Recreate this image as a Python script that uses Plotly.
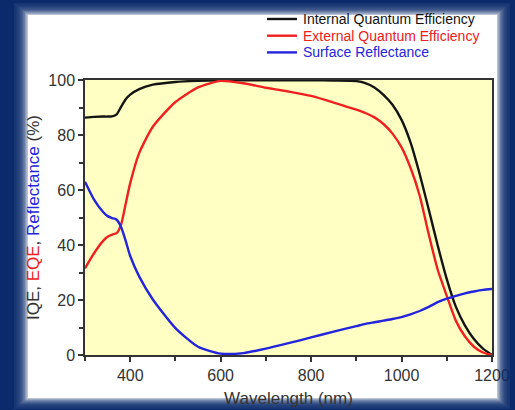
import plotly.graph_objects as go

# Wavelength grid (nm) and measured curves (%)
wavelength = [300, 320, 340, 350, 360, 370, 380, 390, 400, 420, 450, 500, 550, 600, 650,
              700, 750, 800, 850, 900, 920, 940, 960, 980, 1000, 1020, 1040, 1060, 1080,
              1100, 1120, 1140, 1160, 1180, 1200]

iqe = [86.3, 86.6, 86.7, 86.7, 86.8, 87.5, 90.3, 93.0, 94.7, 96.7, 98.3, 99.3, 99.7, 99.9, 99.9,
       99.9, 99.9, 99.9, 99.8, 99.6, 98.9, 97.3, 94.6, 91.0, 85.5, 77.2, 65.8, 53.0, 39.8,
       27.6, 17.6, 10.8, 5.8, 2.3, 0.0]

eqe = [31.5, 37.0, 41.5, 43.0, 43.8, 44.3, 47.5, 55.0, 62.5, 73.5, 83.0, 92.0, 97.3, 99.7, 98.8,
       97.2, 95.8, 94.2, 91.8, 89.2, 88.0, 86.4, 84.0, 80.5, 75.5, 68.0, 58.0, 44.0, 31.0,
       21.5, 12.5, 6.8, 3.0, 0.9, 0.0]

refl = [63.0, 56.5, 52.0, 50.5, 49.8, 49.2, 46.5, 41.5, 36.0, 28.5, 20.2, 9.8, 3.0, 0.5, 0.7,
        2.3, 4.3, 6.4, 8.5, 10.5, 11.3, 11.9, 12.5, 13.1, 13.8, 14.8, 16.0, 17.5, 19.2,
        20.5, 21.5, 22.4, 23.1, 23.7, 24.0]

series_names = ["Internal Quantum Efficiency", "External Quantum Efficiency", "Surface Reflectance"]
x_ticks = [400, 600, 800, 1000, 1200]
y_ticks = [0, 20, 40, 60, 80, 100]

BLACK = "#141414"
RED = "#ee2020"
BLUE = "#2424dd"
NAVY = "#0b2a6c"
INK = "#333333"
FONT = "Liberation Sans, Arial, sans-serif"

W, H = 515, 410
ML, MR, MT, MB = 85, 23, 80, 55
PW, PH = W - ML - MR, H - MT - MB

colors = [BLACK, RED, BLUE]

fig = go.Figure()
for vals, col, name in zip([iqe, eqe, refl], colors, series_names):
    fig.add_trace(go.Scatter(
        x=wavelength, y=vals, mode="lines", name=name,
        line=dict(color=col, width=2.4, shape="spline", smoothing=0.6),
    ))


def px_x(p):
    return (p - ML) / PW


def px_y(p):
    return 1 - (p - MT) / PH


def rect_path(x0, y0, x1, y1, reverse=False):
    pts = [(x0, y0), (x1, y0), (x1, y1), (x0, y1)]
    if reverse:
        pts = pts[::-1]
    return "M" + " L".join(f"{px_x(a):.5f},{px_y(b):.5f}" for a, b in pts) + " Z"


shapes = []
annotations = []

# legend: short line samples with coloured labels, top right
for i, (col, name) in enumerate(zip(colors, series_names)):
    yy = px_y(19 + i * 16.7)
    shapes.append(dict(type="line", xref="paper", yref="paper",
                       x0=px_x(267), x1=px_x(297), y0=yy, y1=yy,
                       line=dict(color=col, width=2.4)))
    annotations.append(dict(text=name, xref="paper", yref="paper",
                            x=px_x(301), y=yy, xanchor="left", yanchor="middle",
                            showarrow=False, font=dict(family=FONT, size=14, color=col)))

# soft navy frame around the white panel
outer = (-5, -5, W + 5, H + 5)
edge_out = (14, 3, 510, 409)
edge_in = (28, 15, 497, 398)
n = 9
for k in range(n):
    t = (k + 1) / n
    ix0 = edge_out[0] + (edge_in[0] - edge_out[0]) * t
    iy0 = edge_out[1] + (edge_in[1] - edge_out[1]) * t
    ix1 = edge_out[2] + (edge_in[2] - edge_out[2]) * t
    iy1 = edge_out[3] + (edge_in[3] - edge_out[3]) * t
    path = rect_path(*outer) + " " + rect_path(ix0, iy0, ix1, iy1, reverse=True)
    shapes.append(dict(type="path", path=path, xref="paper", yref="paper",
                       fillcolor=NAVY, opacity=0.28, line=dict(width=0), layer="above"))
path = rect_path(*outer) + " " + rect_path(*edge_out, reverse=True)
shapes.append(dict(type="path", path=path, xref="paper", yref="paper",
                   fillcolor=NAVY, line=dict(width=0), layer="above"))

axis_common = dict(
    showline=True, linecolor=INK, linewidth=1.5, mirror=True,
    ticks="outside", ticklen=5, tickcolor=INK, tickwidth=1.5,
    showgrid=False, zeroline=False, automargin=False,
    tickfont=dict(family=FONT, size=16, color=INK),
)

fig.update_layout(
    width=W, height=H,
    margin=dict(l=ML, r=MR, t=MT, b=MB),
    paper_bgcolor="white",
    plot_bgcolor="#ffffc4",
    font=dict(family=FONT, color=INK),
    showlegend=False,
    xaxis=dict(range=[300, 1200], tickmode="array", tickvals=x_ticks,
               minor=dict(ticks="outside", tickvals=[300, 500, 700, 900, 1100],
                          ticklen=4, tickcolor=INK),
               title=dict(text="Wavelength (nm)", font=dict(family=FONT, size=17, color=INK),
                          standoff=9),
               **axis_common),
    yaxis=dict(range=[0, 100], tickmode="array", tickvals=y_ticks,
               minor=dict(ticks="outside", dtick=10, ticklen=4, tickcolor=INK),
               title=dict(text=f"IQE, <span style='color:{RED}'>EQE</span>, "
                               f"<span style='color:{BLUE}'>Reflectance</span> (%)",
                          font=dict(family=FONT, size=17, color=INK), standoff=4),
               **axis_common),
    shapes=shapes,
    annotations=annotations,
)

fig.write_html("out.html")
